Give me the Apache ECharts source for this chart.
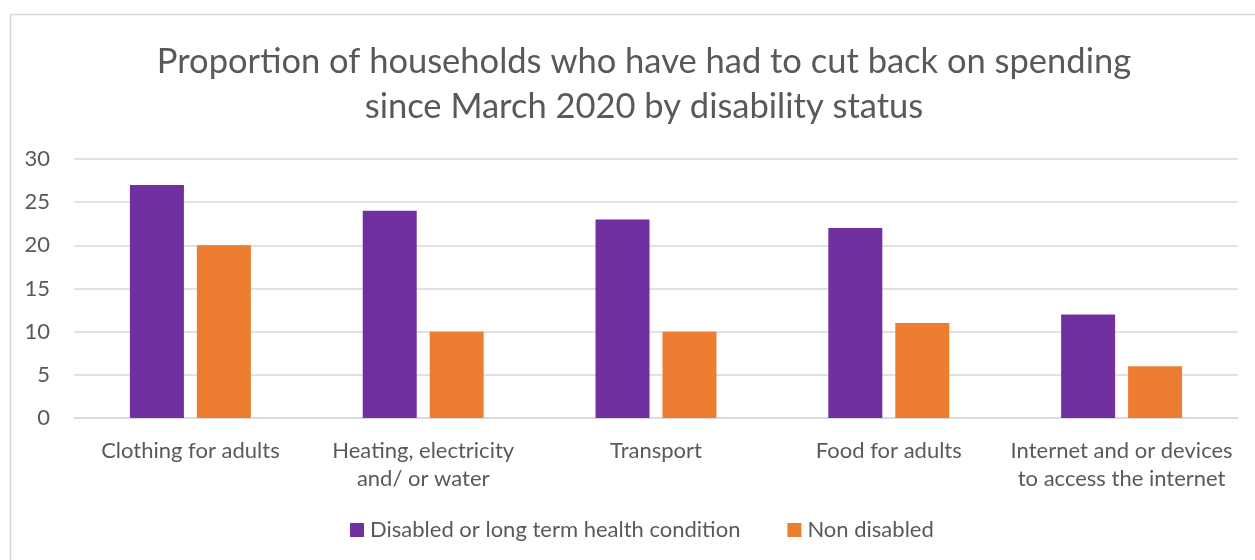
<!DOCTYPE html>
<html>
<head>
<meta charset="utf-8">
<script src="https://cdn.jsdelivr.net/npm/echarts@6/dist/echarts.min.js"></script>
<style>
  html, body { margin: 0; padding: 0; background: #fff; }
  #chart { width: 1255px; height: 560px; }
</style>
</head>
<body>
<div id="chart"></div>
<script>
var categorias = [
  'Clothing for adults',
  'Heating, electricity\nand/ or water',
  'Transport',
  'Food for adults',
  'Internet and or devices\nto access the internet'
];
var disabled = [27, 24, 23, 22, 12];
var nonDisabled = [20, 10, 10, 11, 6];
var nombres = ['Disabled or long term health condition', 'Non disabled'];

var fuente = 'Lato';
var gris = '#595959';

var myChart = echarts.init(document.getElementById('chart'), null, { renderer: 'canvas' });

var option = {
  animation: false,
  textStyle: { fontFamily: fuente },
  graphic: [{
    type: 'rect',
    shape: { x: 10.5, y: 14.5, width: 1270, height: 570 },
    style: { fill: 'none', stroke: '#d9d9d9', lineWidth: 1.5 },
    silent: true
  }],
  title: {
    text: 'Proportion of households who have had to cut back on spending\nsince March 2020 by disability status',
    left: 639,
    top: 34,
    textAlign: 'center',
    textStyle: {
      fontFamily: fuente,
      fontSize: 34.5,
      fontWeight: 'normal',
      color: gris,
      lineHeight: 45
    }
  },
  legend: {
    bottom: 14,
    left: 345,
    itemWidth: 14,
    itemHeight: 14,
    itemGap: 47,
    icon: 'rect',
    textStyle: { fontSize: 22, color: gris, padding: [0, 0, 0, 1] },
    data: nombres
  },
  grid: {
    left: 74,
    right: 17,
    top: 159,
    bottom: 142,
    containLabel: false
  },
  xAxis: {
    type: 'category',
    data: categorias,
    axisTick: { show: false },
    axisLine: { lineStyle: { color: '#d9d9d9', width: 1.5 } },
    axisLabel: { fontSize: 22, color: gris, margin: 19, lineHeight: 28, interval: 0 }
  },
  yAxis: {
    type: 'value',
    min: 0,
    max: 30,
    interval: 5,
    axisLine: { show: false },
    axisTick: { show: false },
    axisLabel: { fontSize: 22, color: gris, margin: 24 },
    splitLine: { lineStyle: { color: '#d9d9d9', width: 1.5 } }
  },
  series: [
    {
      name: nombres[0],
      type: 'bar',
      data: disabled,
      barWidth: 54,
      barGap: '24%',
      itemStyle: { color: '#7030a0' }
    },
    {
      name: nombres[1],
      type: 'bar',
      data: nonDisabled,
      barWidth: 54,
      barGap: '24%',
      itemStyle: { color: '#ed7d31' }
    }
  ]
};

myChart.setOption(option);
window.addEventListener('resize', myChart.resize);
</script>
</body>
</html>
